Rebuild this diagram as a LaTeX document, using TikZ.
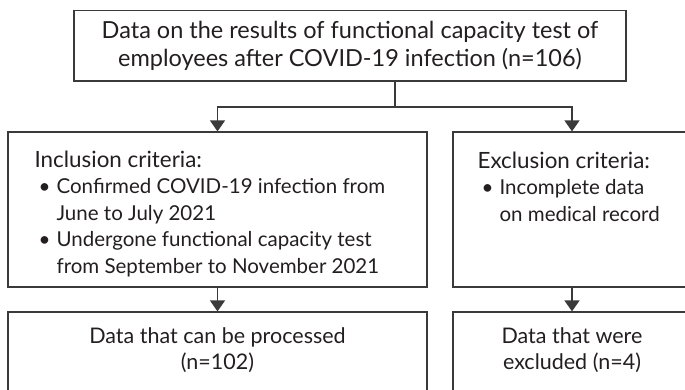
\documentclass[tikz,border=0pt]{standalone}
\usepackage{fontspec}
\setmainfont{Lato}
\usetikzlibrary{arrows.meta,calc}
\definecolor{linec}{HTML}{3A3A3A}
\definecolor{textc}{HTML}{231F20}
\tikzset{
  box/.style={draw=linec, line width=1.2pt, rectangle, inner sep=0pt},
  txt/.style={text=textc, inner sep=0pt, font={\fontsize{20.5}{26.5}\selectfont}},
  toptxt/.style={text=textc, inner sep=0pt, font={\fontsize{23.5}{28}\selectfont}},
  conn/.style={draw=linec, line width=1.2pt},
  arr/.style={conn, -{Triangle[width=15pt,length=11pt]}},
}
\newcommand{\bul}{\hspace*{4pt}\makebox[18pt][l]{\textbullet}}
\newcommand{\ind}{\hspace*{22pt}}
\newcommand{\hd}[1]{{\fontsize{22.4}{26.5}\selectfont #1}}
\begin{document}
\begin{tikzpicture}[x=1pt,y=-1pt]
\useasboundingbox (0,0) rectangle (685,389);
\clip (0,0) rectangle (685,389);
\fill[white] (0,0) rectangle (685,389);

\node[box, toptxt, minimum width=552pt, minimum height=70.5pt, align=center] (top) at (350,45.75)
  {Data on the results of functional capacity test of\\employees after COVID-19 infection (n=106)};

\node[box, minimum width=419pt, minimum height=155pt] (incl) at (217.5,209.5) {};
\node[box, minimum width=238pt, minimum height=155pt] (excl) at (572,209.5) {};
\node[box, minimum width=419pt, minimum height=108pt] (proc) at (217.5,366) {};
\node[box, minimum width=238pt, minimum height=108pt] (excd) at (572,366) {};

\node[txt, anchor=north west, align=left] (incltxt) at ($(incl.north west)+(27,19)$)
  {\hd{Inclusion criteria:}\\
   \bul Confirmed COVID-19 infection from\\
   \ind June to July 2021\\
   \bul Undergone functional capacity test\\
   \ind from September to November 2021};

\node[txt, anchor=north west, align=left] (excltxt) at ($(excl.north west)+(25,20)$)
  {\hd{Exclusion criteria:}\\
   \bul Incomplete data\\
   \ind on medical record};

\node[txt, anchor=north, align=center, font={\fontsize{21.5}{26.5}\selectfont}] (proctxt) at ($(proc.north)+(0,16)$)
  {Data that can be processed\\(n=102)};
\node[txt, anchor=north, align=center, font={\fontsize{21.5}{26.5}\selectfont}] (excdtxt) at ($(excd.north)+(0,16)$)
  {Data that were\\excluded (n=4)};

\coordinate (split) at (395,107);
\draw[conn] (split |- top.south) -- (split);
\draw[arr] (split) -| (incl.north);
\draw[arr] (split) -| (excl.north);
\draw[arr] (incl.south) -- (proc.north);
\draw[arr] (excl.south) -- (excd.north);
\end{tikzpicture}
\end{document}
